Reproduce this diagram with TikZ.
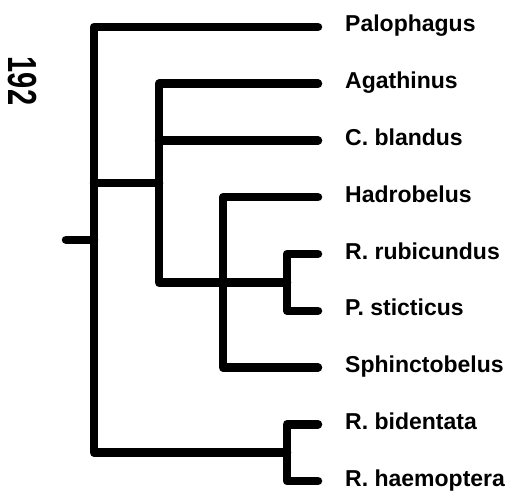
\documentclass[tikz,border=0pt]{standalone}
\usepackage{fontspec}
\setmainfont{Liberation Sans}
\usetikzlibrary{positioning}
\tikzset{
  branch/.style={line width=8.5pt, line cap=round, line join=round, draw=black},
  taxon/.style={font=\bfseries\fontsize{23}{23}\selectfont, anchor=base west, inner sep=0pt},
  support/.style={font=\bfseries\fontsize{29}{29}\selectfont, rotate=-90, inner sep=0pt},
}

\begin{document}
\begin{tikzpicture}[x=1pt, y=-1pt]
  \useasboundingbox (0,0) rectangle (511,497);
  % leaves: tip coordinate + label
  \foreach \i/\nm/\lab in {0/pal/Palophagus, 1/aga/Agathinus, 2/bla/C. blandus,
                           3/had/Hadrobelus, 4/rub/R. rubicundus, 5/sti/P. sticticus,
                           6/sph/Sphinctobelus, 7/bid/R. bidentata, 8/hae/R. haemoptera} {
    \coordinate (\nm) at (318, 27+56.75*\i);
    \node[taxon] (\nm-lab) at (345, 32+56.75*\i) {\lab};
  }
  % internal nodes
  \coordinate (nrp)  at (287, 282.4);
  \coordinate (nhs)  at (223, 282.4);
  \coordinate (nin)  at (159, 183.1);
  \coordinate (nrh)  at (287, 452.6);
  \coordinate (root) at (94, 239.8);
  \coordinate (stub) at (66, 239.8);
  % branches
  \draw[branch] (rub) -| (nrp) |- (sti);
  \draw[branch] (had) -| (nhs) |- (sph);
  \draw[branch] (nrp) -- (nhs) -| (nin);
  \draw[branch] (aga) -| (nin);
  \draw[branch] (bla) -- (bla -| nin);
  \draw[branch] (bid) -| (nrh) |- (hae);
  \draw[branch] (pal) -| (root) |- (nrh);
  \draw[branch] (nin) -- (nin -| root);
  \draw[branch] (root) -- (stub);
  \node[support] (bs) at (22.5, 81) {\scalebox{1}[1.4]{192}};
\end{tikzpicture}
\end{document}
